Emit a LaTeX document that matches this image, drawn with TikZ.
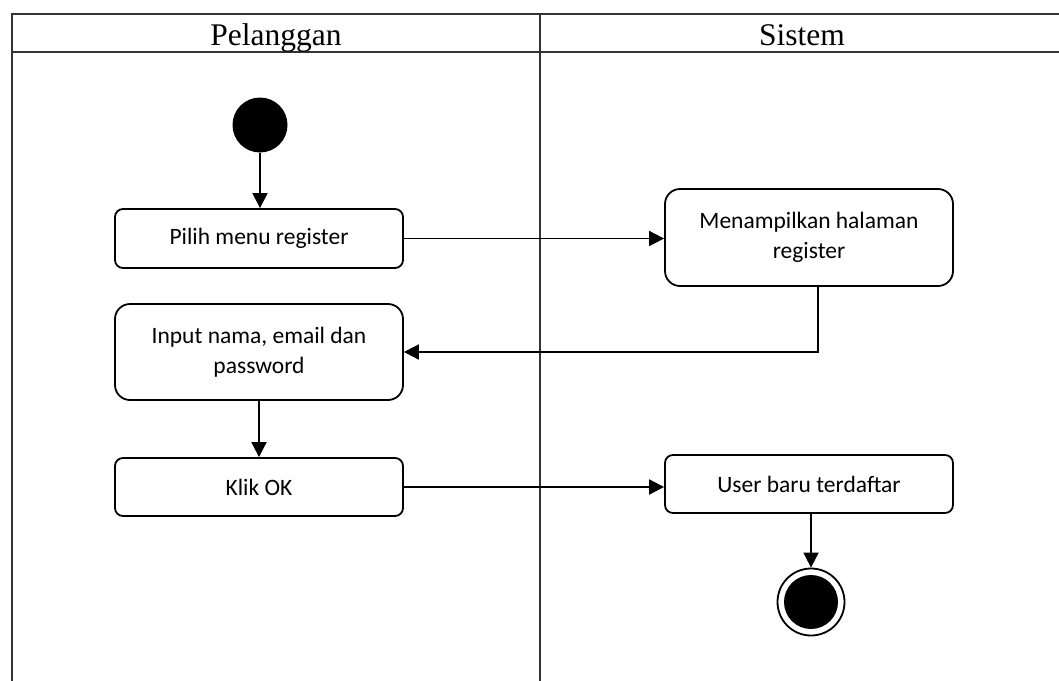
\documentclass[tikz,border=0pt]{standalone}
\usepackage{fontspec}
\setmainfont{Liberation Serif}
\newfontfamily\boxfont{Carlito}
\usetikzlibrary{arrows.meta,calc}
\begin{document}
\begin{tikzpicture}[x=1pt,y=-1pt,
  frame/.style={line width=1.6pt,draw=black!80},
  act/.style={draw,line width=1.8pt,rounded corners=#1,minimum width=288pt,align=center,
    font=\boxfont\fontsize{23.5}{30}\selectfont,inner sep=0pt},
  flow/.style={line width=1.8pt,-{Triangle[length=15pt,width=15pt]}},
  header/.style={font=\fontsize{31.5}{36}\selectfont,inner sep=0pt}]
\useasboundingbox (0,0) rectangle (1059,680);
\clip (0,0) rectangle (1059,680);
% swimlane frame
\draw[frame] (12,690) -- (12,14) -- (1070,14);
\draw[frame] (12,52) -- (1070,52);
\draw[frame] (540,14) -- (540,690);
\node[header,anchor=base] (h1) at (276,45) {Pelanggan};
\node[header,anchor=base] (h2) at (802,45) {Sistem};
% nodes
\node[circle,fill=black,minimum size=55pt,inner sep=0pt] (s) at (260,125) {};
\node[act=8pt,minimum height=59pt] (p) at (259,238.5) {Pilih menu register};
\node[act=15pt,minimum height=97pt] (m) at (809,237.5) {Menampilkan halaman\\register};
\node[act=15pt,minimum height=96pt] (in) at (259,352) {Input nama, email dan\\password};
\node[act=8pt,minimum height=58pt] (k) at (259,487) {Klik OK};
\node[act=8pt,minimum height=58pt] (u) at (809,484) {User baru terdaftar};
\node[circle,draw,line width=1.8pt,minimum size=67pt,inner sep=0pt] (f) at (811,602) {};
\node[circle,fill=black,minimum size=54pt,inner sep=0pt] (fi) at (811,602) {};
% connectors
\draw[flow] (s.south) -- (s.south |- p.north);
\draw[flow] (p.east) -- (p.east -| m.west);
\coordinate (mb) at ([xshift=9pt]m.south);
\draw[flow] (mb) |- (in.east);
\draw[flow] (in.south) -- (k.north);
\draw[flow] (k.east) -- (k.east -| u.west);
\draw[flow] (f.north |- u.south) -- (f.north);
\end{tikzpicture}
\end{document}
